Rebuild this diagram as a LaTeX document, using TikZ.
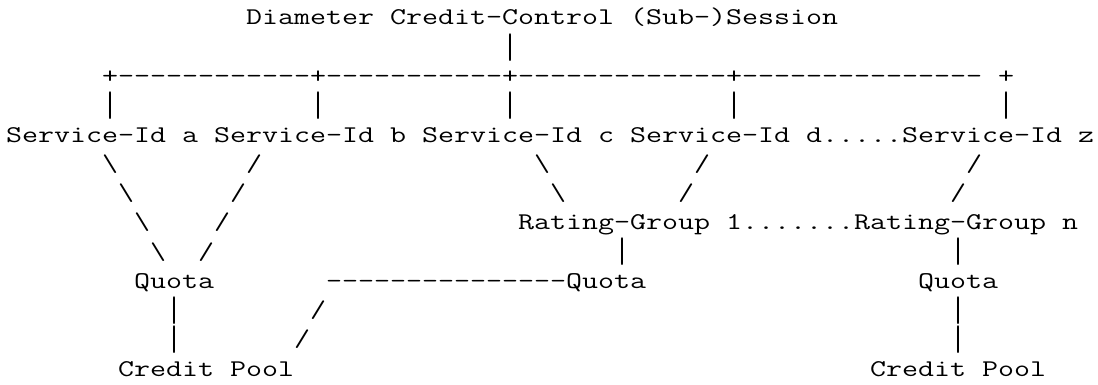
\documentclass[tikz,border=0pt]{standalone}
\usepackage{fontspec}
\usepackage{graphicx}

% one cell of the character grid is 8pt wide, one line is 14.625pt high
\newcommand\monofont{\ttfamily\fontsize{12}{14}\selectfont}
\newlength\cellw
\newlength\barht
\newlength\bardp
\settowidth\cellw{\monofont M}
\settoheight\barht{\monofont|}
\settodepth\bardp{\monofont|}
\pgfmathsetmacro\cellsx{8pt/\cellw}
\pgfmathsetmacro\barsy{13.8pt/(\barht+\bardp)}
\pgfmathsetmacro\barraise{\bardp*\barsy-3.35}
\newcommand\mono[1]{\scalebox{\cellsx}[1]{#1}}
% the bar fills nearly the whole line, as in the typed original
\newcommand\vbar{\raisebox{\barraise pt}{\scalebox{\cellsx}[\barsy]{|}}}

\tikzset{glyph/.style={anchor=base west, inner sep=0pt, outer sep=0pt, font=\monofont}}

\begin{document}
\begin{tikzpicture}[x=8pt,y=-14.625pt]
\fill[white] (0,0) rectangle (549pt,-192.5pt);
\useasboundingbox (0,0) rectangle (549pt,-192.5pt);
\begin{scope}[shift={(3pt,2.125pt)}]
% session and its branches
\node[glyph] (session) at (15,1) {\mono{Diameter Credit-Control (Sub-)Session}};
\node[glyph] (sessionbar) at (31,2) {\vbar};
\node[glyph] (branch) at (6,3) {\mono{+------------+-----------+-------------+---------------}};
\node[glyph] (branchend) at (62,3) {\mono{+}};
\foreach \c/\n in {6/a,19/b,31/c,45/d,62/z}
  \node[glyph] (bar\n) at (\c,4) {\vbar};

% services
\node[glyph] (svca) at (0,5) {\mono{Service-Id a}};
\node[glyph] (svcb) at (13,5) {\mono{Service-Id b}};
\node[glyph] (svcc) at (26,5) {\mono{Service-Id c}};
\node[glyph] (svcd) at (39,5) {\mono{Service-Id d}};
\node[glyph] (svcdots) at (51,5) {\mono{.....}};
\node[glyph] (svcz) at (56,5) {\mono{Service-Id z}};

% services a and b down to the first quota
\foreach \r in {0,...,3}{
  \node[glyph] (downa\r) at (6+\r,6+\r) {\mono{\textbackslash}};
  \node[glyph] (downb\r) at (15-\r,6+\r) {\mono{/}};
}

% services c, d and z down to the rating groups
\node[glyph] (downc0) at (33,6) {\mono{\textbackslash}};
\node[glyph] (downc1) at (34,7) {\mono{\textbackslash}};
\node[glyph] (downd0) at (43,6) {\mono{/}};
\node[glyph] (downd1) at (42,7) {\mono{/}};
\node[glyph] (downz0) at (60,6) {\mono{/}};
\node[glyph] (downz1) at (59,7) {\mono{/}};

% rating groups
\node[glyph] (rg1) at (32,8) {\mono{Rating-Group 1}};
\node[glyph] (rgdots) at (46,8) {\mono{.......}};
\node[glyph] (rgn) at (53,8) {\mono{Rating-Group n}};
\node[glyph] (rg1bar) at (38,9) {\vbar};
\node[glyph] (rgnbar) at (59,9) {\vbar};

% quotas
\node[glyph] (quotaab) at (8,10) {\mono{Quota}};
\node[glyph] (link) at (20,10) {\mono{---------------}};
\node[glyph] (quota1) at (35,10) {\mono{Quota}};
\node[glyph] (quotan) at (57,10) {\mono{Quota}};
\foreach \r in {11,12}{
  \node[glyph] (poolbar\r) at (10,\r) {\vbar};
  \node[glyph] (poolnbar\r) at (59,\r) {\vbar};
}
\node[glyph] (linkdown0) at (19,11) {\mono{/}};
\node[glyph] (linkdown1) at (18,12) {\mono{/}};

% credit pools
\node[glyph] (pool) at (7,13) {\mono{Credit Pool}};
\node[glyph] (pooln) at (54,13) {\mono{Credit Pool}};
\end{scope}
\end{tikzpicture}
\end{document}
